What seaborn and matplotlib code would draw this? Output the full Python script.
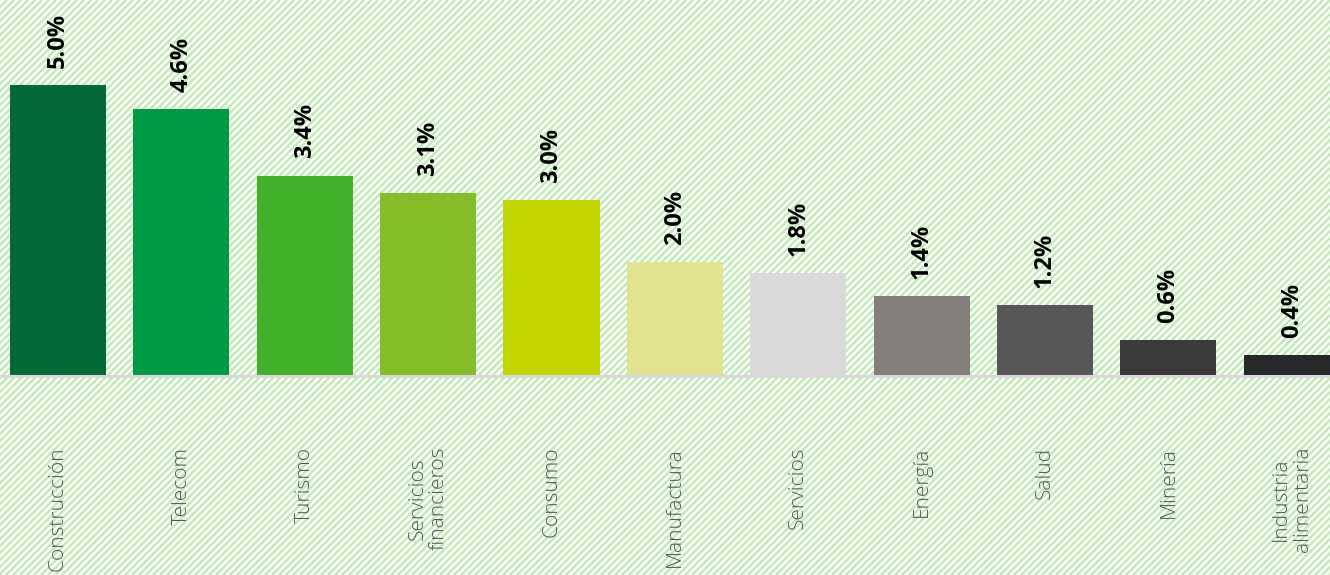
import matplotlib
matplotlib.use("Agg")
import matplotlib.pyplot as plt
from matplotlib.lines import Line2D
import seaborn as sns
import pandas as pd

categories = ["Construcción", "Telecom", "Turismo", "Servicios\nfinancieros", "Consumo",
              "Manufactura", "Servicios", "Energía", "Salud", "Minería", "Industria\nalimentaria"]
values = [5.0, 4.59, 3.44, 3.14, 3.02, 1.96, 1.77, 1.37, 1.22, 0.62, 0.36]
colors = ["#036935", "#009a44", "#43b02a", "#84bd27", "#c4d600", "#e2e38e",
          "#d9d9d9", "#857f7c", "#575757", "#3a3a3a", "#27282a"]

plt.rcParams['font.family'] = ['Open Sans', 'DejaVu Sans']

W, H = 13.3, 5.75
fig = plt.figure(figsize=(W, H), dpi=100)
fig.patch.set_facecolor("white")

# diagonal striped background
sp = 0.07
x0 = -H
while x0 < W:
    fig.add_artist(Line2D([x0, x0 + H], [0, H], transform=fig.dpi_scale_trans,
                          color="#c2ebb8", lw=1.8, zorder=-10, solid_capstyle="butt"))
    x0 += sp

ax = fig.add_axes([0, 199 / 575, 1, 376 / 575])
ax.set_facecolor("none")

df = pd.DataFrame({"cat": categories, "val": values})
sns.barplot(data=df, x="cat", y="val", hue="cat", palette=colors, legend=False,
            width=0.78, saturation=1, ax=ax, zorder=3)

ax.set_xlim(-0.47, 10.31)
ax.set_ylim(0, 376 / 58.2)
ax.axhline(0, color="#d9d9d9", lw=2.2, clip_on=False, zorder=4)

for i, v in enumerate(values):
    ax.annotate(f"{v:.1f}%", (i, v), xytext=(0, 12.5), textcoords="offset points",
                rotation=90, ha="center", va="bottom", fontsize=17, fontweight="bold",
                color="black")

ax.set_xticks(range(len(categories)))
ax.set_xticklabels(categories, rotation=90, fontsize=15, color="#555555",
                   ha="center", va="top", multialignment="center", fontweight="light",
                   linespacing=1.1)
ax.tick_params(axis="x", length=0, pad=51)
ax.set_yticks([])
ax.set_xlabel("")
ax.set_ylabel("")
for s in ax.spines.values():
    s.set_visible(False)

fig.savefig("out.png", dpi=100)
